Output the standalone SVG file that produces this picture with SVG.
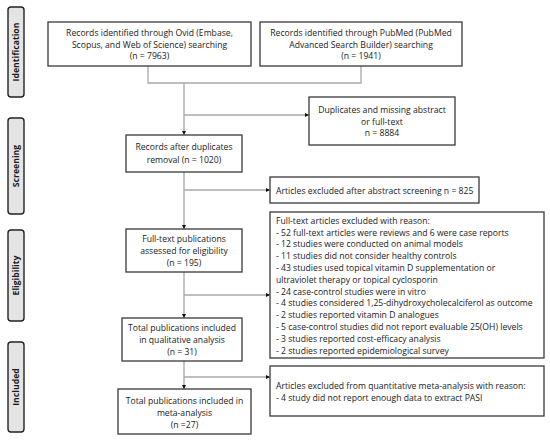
<svg xmlns="http://www.w3.org/2000/svg" width="550" height="442" viewBox="0 0 550 442">
<style>
.box{fill:#fff;stroke:#3a3a3a;stroke-width:1.3}
.side{fill:#e4e4e4;stroke:#222;stroke-width:1.4}
.t{font-family:"Open Sans","Liberation Sans",Arial,sans-serif;font-size:8.65px;fill:#1a1a1a}
.c{text-anchor:middle}
.s{font-family:"Open Sans","Liberation Sans",Arial,sans-serif;font-size:8.7px;font-weight:bold;fill:#1a1a1a;text-anchor:middle}
.ln{fill:none;stroke:#a8a8a8;stroke-width:1.3}
</style>
<defs>
<marker id="ah" viewBox="0 0 6 6" refX="6" refY="3" markerWidth="4" markerHeight="4" orient="auto" markerUnits="userSpaceOnUse">
<path d="M0,0 L6,3 L0,6 z" fill="#111"/>
</marker>
</defs>
<rect width="550" height="442" fill="#fff"/>
<g id="connectors">
<path class="ln" d="M148,66 V83 H361 V66"/>
<path class="ln" d="M184,83 V135" marker-end="url(#ah)"/>
<path class="ln" d="M184,115 H309" marker-end="url(#ah)"/>
<path class="ln" d="M184,172 V229" marker-end="url(#ah)"/>
<path class="ln" d="M184,190 H270" marker-end="url(#ah)"/>
<path class="ln" d="M184,272 V318" marker-end="url(#ah)"/>
<path class="ln" d="M184,295 H270" marker-end="url(#ah)"/>
<path class="ln" d="M184,361 V389" marker-end="url(#ah)"/>
<path class="ln" d="M184,377 H270" marker-end="url(#ah)"/>
</g>
<g id="side-identification">
<rect class="side" x="8" y="7" width="16" height="90" rx="3"/>
<text class="s" transform="translate(19,52) rotate(-90)">Identification</text>
</g>
<g id="side-screening">
<rect class="side" x="8" y="118" width="16" height="96" rx="3"/>
<text class="s" transform="translate(19,166) rotate(-90)">Screening</text>
</g>
<g id="side-eligibility">
<rect class="side" x="8" y="230" width="16" height="91" rx="3"/>
<text class="s" transform="translate(19,275.5) rotate(-90)">Eligibility</text>
</g>
<g id="side-included">
<rect class="side" x="8" y="342" width="16" height="90" rx="3"/>
<text class="s" transform="translate(19,387) rotate(-90)">Included</text>
</g>
<g id="ovid">
<rect class="box" x="48" y="22" width="203" height="44"/>
<text class="t c" x="149.5" y="36">Records identified through Ovid (Embase,</text>
<text class="t c" x="149.5" y="47.5">Scopus, and Web of Science) searching</text>
<text class="t c" x="149.5" y="59">(n = 7963)</text>
</g>
<g id="pubmed">
<rect class="box" x="260" y="22" width="202" height="44"/>
<text class="t c" x="361" y="36">Records identified through PubMed (PubMed</text>
<text class="t c" x="361" y="47.5">Advanced Search Builder) searching</text>
<text class="t c" x="361" y="59">(n = 1941)</text>
</g>
<g id="duplicates">
<rect class="box" x="309" y="97" width="146" height="48"/>
<text class="t c" x="382" y="113">Duplicates and missing abstract</text>
<text class="t c" x="382" y="124.7">or full-text</text>
<text class="t c" x="382" y="136.3">n = 8884</text>
</g>
<g id="after-duplicates">
<rect class="box" x="126" y="135" width="116" height="37"/>
<text class="t c" x="184" y="150.3">Records after duplicates</text>
<text class="t c" x="184" y="163">removal (n = 1020)</text>
</g>
<g id="excluded-abstract">
<rect class="box" x="270" y="177" width="209" height="26"/>
<text class="t" x="276" y="194">Articles excluded after abstract screening n = 825</text>
</g>
<g id="fulltext">
<rect class="box" x="126" y="229" width="116" height="43"/>
<text class="t c" x="184" y="242.3">Full-text publications</text>
<text class="t c" x="184" y="253.7">assessed for eligibility</text>
<text class="t c" x="184" y="265.7">(n = 195)</text>
</g>
<g id="excluded-fulltext">
<rect class="box" x="270" y="212" width="274" height="146"/>
<text class="t" x="276" y="223.7">Full-text articles excluded with reason:</text>
<text class="t" x="276" y="235.5">- 52 full-text articles were reviews and 6 were case reports</text>
<text class="t" x="276" y="247.3">- 12 studies were conducted on animal models</text>
<text class="t" x="276" y="259.1">- 11 studies did not consider healthy controls</text>
<text class="t" x="276" y="270.9">- 43 studies used topical vitamin D supplementation or</text>
<text class="t" x="276" y="282.7">ultraviolet therapy or topical cyclosporin</text>
<text class="t" x="276" y="294.5">- 24 case-control studies were in vitro</text>
<text class="t" x="276" y="306.3">- 4 studies considered 1,25-dihydroxycholecalciferol as outcome</text>
<text class="t" x="276" y="318.1">- 2 studies reported vitamin D analogues</text>
<text class="t" x="276" y="329.9">- 5 case-control studies did not report evaluable 25(OH) levels</text>
<text class="t" x="276" y="341.7">- 3 studies reported cost-efficacy analysis</text>
<text class="t" x="276" y="353.5">- 2 studies reported epidemiological survey</text>
</g>
<g id="qualitative">
<rect class="box" x="122" y="318" width="120" height="43"/>
<text class="t c" x="182" y="330.7">Total publications included</text>
<text class="t c" x="182" y="343">in qualitative analysis</text>
<text class="t c" x="182" y="355.3">(n = 31)</text>
</g>
<g id="excluded-quantitative">
<rect class="box" x="270" y="366" width="274" height="50"/>
<text class="t" x="276" y="389">Articles excluded from quantitative meta-analysis with reason:</text>
<text class="t" x="276" y="400.7">- 4 study did not report enough data to extract PASI</text>
</g>
<g id="meta">
<rect class="box" x="118" y="389" width="133" height="45"/>
<text class="t c" x="184.5" y="404">Total publications included in</text>
<text class="t c" x="184.5" y="415.7">meta-analysis</text>
<text class="t c" x="184.5" y="428">(n =27)</text>
</g>
</svg>
